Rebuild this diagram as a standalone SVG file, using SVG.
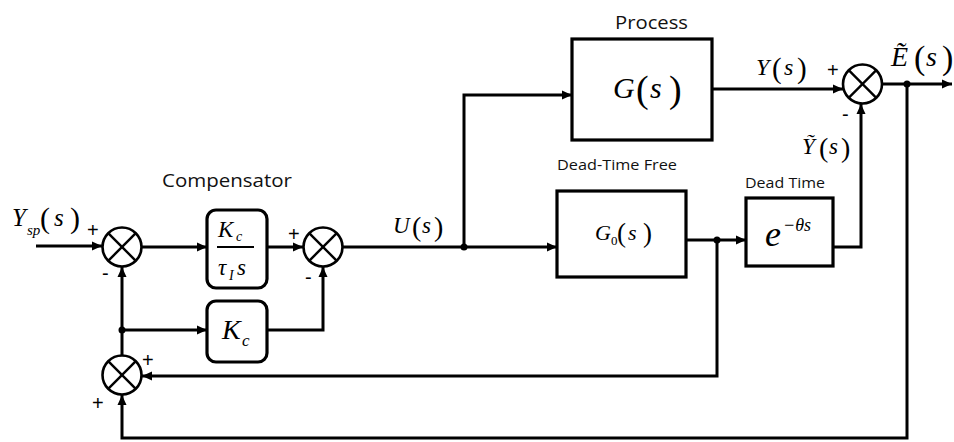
<svg xmlns="http://www.w3.org/2000/svg" width="954" height="442" viewBox="0 0 954 442">
<style>
.ln{fill:none;stroke:#000;stroke-width:3;stroke-linejoin:miter}
.ar{marker-end:url(#ah)}
.bx{fill:#fff;stroke:#000;stroke-width:3.2}
.sj{fill:#fff;stroke:#000;stroke-width:2.6}
.x{stroke:#000;stroke-width:2.4}
.lab{font-family:"Open Sans","Liberation Sans",sans-serif;fill:#111}
.m{font-family:"Liberation Serif","Times New Roman",serif;font-style:italic;fill:#000}
.p{font-family:"Liberation Serif","Times New Roman",serif;fill:#000}
.sg{font-family:"Liberation Sans",Arial,sans-serif;font-size:20px;fill:#000}
</style>
<defs>
<marker id="ah" markerUnits="userSpaceOnUse" markerWidth="11" markerHeight="10" refX="10" refY="5" orient="auto">
<path d="M0,0.5 L10,5 L0,9.5 z" fill="#000"/>
</marker>
<g id="sum">
<circle cx="0" cy="0" r="19.5" class="sj"/>
<line x1="-13.8" y1="-13.8" x2="13.8" y2="13.8" class="x"/>
<line x1="-13.8" y1="13.8" x2="13.8" y2="-13.8" class="x"/>
</g>
</defs>
<rect width="954" height="442" fill="#fff"/>

<g id="connectors">
<line x1="36" y1="246" x2="102" y2="246" class="ln ar"/>
<line x1="142" y1="247" x2="207" y2="247" class="ln ar"/>
<line x1="267" y1="247" x2="303" y2="247" class="ln ar"/>
<line x1="343" y1="247" x2="557" y2="247" class="ln ar"/>
<polyline points="464,247 464,95 572,95" class="ln ar"/>
<line x1="712" y1="89" x2="843" y2="89" class="ln ar"/>
<polyline points="833,247 861,247 861,104" class="ln ar"/>
<line x1="882" y1="84" x2="952" y2="84" class="ln ar"/>
<polyline points="907,84 907,438 122,438 122,395" class="ln ar"/>
<line x1="686" y1="240" x2="746" y2="240" class="ln ar"/>
<polyline points="717,240 717,376 142,376" class="ln ar"/>
<line x1="122" y1="355" x2="122" y2="267" class="ln ar"/>
<line x1="122" y1="330" x2="207" y2="330" class="ln ar"/>
<polyline points="267,330 323,330 323,267" class="ln ar"/>
<circle cx="464" cy="247" r="3.5"/>
<circle cx="907" cy="84" r="3.5"/>
<circle cx="717" cy="240" r="3.5"/>
<circle cx="122" cy="330" r="3.5"/>
</g>

<g id="input-label">
<text class="m" x="12" y="226" font-size="25">Y</text>
<text class="m" x="27" y="235" font-size="15">sp</text>
<text class="p" x="40" y="228" font-size="30">(</text>
<text class="m" x="54" y="226" font-size="25">s</text>
<text class="p" x="70" y="228" font-size="30">)</text>
</g>

<g id="sum1">
<use href="#sum" x="122" y="247"/>
<text class="sg" x="87" y="237">+</text>
<text class="sg" x="102" y="280">-</text>
</g>

<g id="compensator-label">
<text class="lab" x="162" y="187" font-size="19" textLength="130" lengthAdjust="spacingAndGlyphs">Compensator</text>
</g>

<g id="integral-box">
<rect x="207" y="210" width="60" height="78" rx="9" class="bx"/>
<text class="m" x="218" y="237" font-size="23">K</text>
<text class="m" x="236" y="241" font-size="14">c</text>
<line x1="217" y1="247" x2="254" y2="247" stroke="#000" stroke-width="2"/>
<text class="m" x="218" y="275" font-size="23">τ</text>
<text class="m" x="229" y="280" font-size="14">I</text>
<text class="m" x="237" y="275" font-size="23">s</text>
</g>

<g id="gain-box">
<rect x="207" y="301" width="60" height="61" rx="9" class="bx"/>
<text class="m" x="222" y="339" font-size="28">K</text>
<text class="m" x="242" y="346" font-size="17">c</text>
</g>

<g id="sum2">
<use href="#sum" x="323" y="247"/>
<text class="sg" x="288" y="241">+</text>
<text class="sg" x="305" y="284">-</text>
</g>

<g id="u-label">
<text class="m" x="393" y="233" font-size="23">U</text>
<text class="p" x="412" y="236" font-size="28">(</text>
<text class="m" x="422" y="233" font-size="23">s</text>
<text class="p" x="434" y="236" font-size="28">)</text>
</g>

<g id="process">
<text class="lab" x="615" y="29" font-size="19" textLength="73" lengthAdjust="spacingAndGlyphs">Process</text>
<rect x="572" y="39" width="140" height="101" class="bx"/>
<text class="m" x="613" y="98" font-size="30">G</text>
<text class="p" x="636" y="102" font-size="38">(</text>
<text class="m" x="650" y="98" font-size="30">s</text>
<text class="p" x="669" y="102" font-size="38">)</text>
</g>

<g id="dead-time-free">
<text class="lab" x="557" y="170" font-size="14" textLength="120" lengthAdjust="spacingAndGlyphs">Dead-Time Free</text>
<rect x="557" y="191" width="129" height="86" class="bx"/>
<text class="m" x="595" y="240" font-size="22">G</text>
<text class="p" x="611" y="245" font-size="13">0</text>
<text class="p" x="617" y="242" font-size="27">(</text>
<text class="m" x="628" y="240" font-size="22">s</text>
<text class="p" x="643" y="242" font-size="27">)</text>
</g>

<g id="dead-time">
<text class="lab" x="745" y="188" font-size="14" textLength="80" lengthAdjust="spacingAndGlyphs">Dead Time</text>
<rect x="746" y="198" width="87" height="68" class="bx"/>
<text class="m" x="765" y="246" font-size="36">e</text>
<text class="m" x="783" y="231" font-size="18">−θs</text>
</g>

<g id="y-label">
<text class="m" x="756" y="75" font-size="24">Y</text>
<text class="p" x="772" y="78" font-size="29">(</text>
<text class="m" x="784" y="75" font-size="24">s</text>
<text class="p" x="797" y="78" font-size="29">)</text>
</g>

<g id="sum4">
<use href="#sum" x="862.5" y="84"/>
<text class="sg" x="827" y="77">+</text>
<text class="sg" x="842" y="121">-</text>
</g>

<g id="ytilde-label">
<text class="m" x="802" y="154" font-size="23">Ỹ</text>
<text class="p" x="819" y="157" font-size="28">(</text>
<text class="m" x="829" y="154" font-size="23">s</text>
<text class="p" x="841" y="157" font-size="28">)</text>
</g>

<g id="etilde-label">
<text class="m" x="891" y="66" font-size="28">Ẽ</text>
<text class="p" x="914" y="69" font-size="34">(</text>
<text class="m" x="926" y="66" font-size="28">s</text>
<text class="p" x="942" y="69" font-size="34">)</text>
</g>

<g id="sum3">
<use href="#sum" x="122" y="375"/>
<text class="sg" x="142" y="367">+</text>
<text class="sg" x="92" y="410">+</text>
</g>
</svg>
